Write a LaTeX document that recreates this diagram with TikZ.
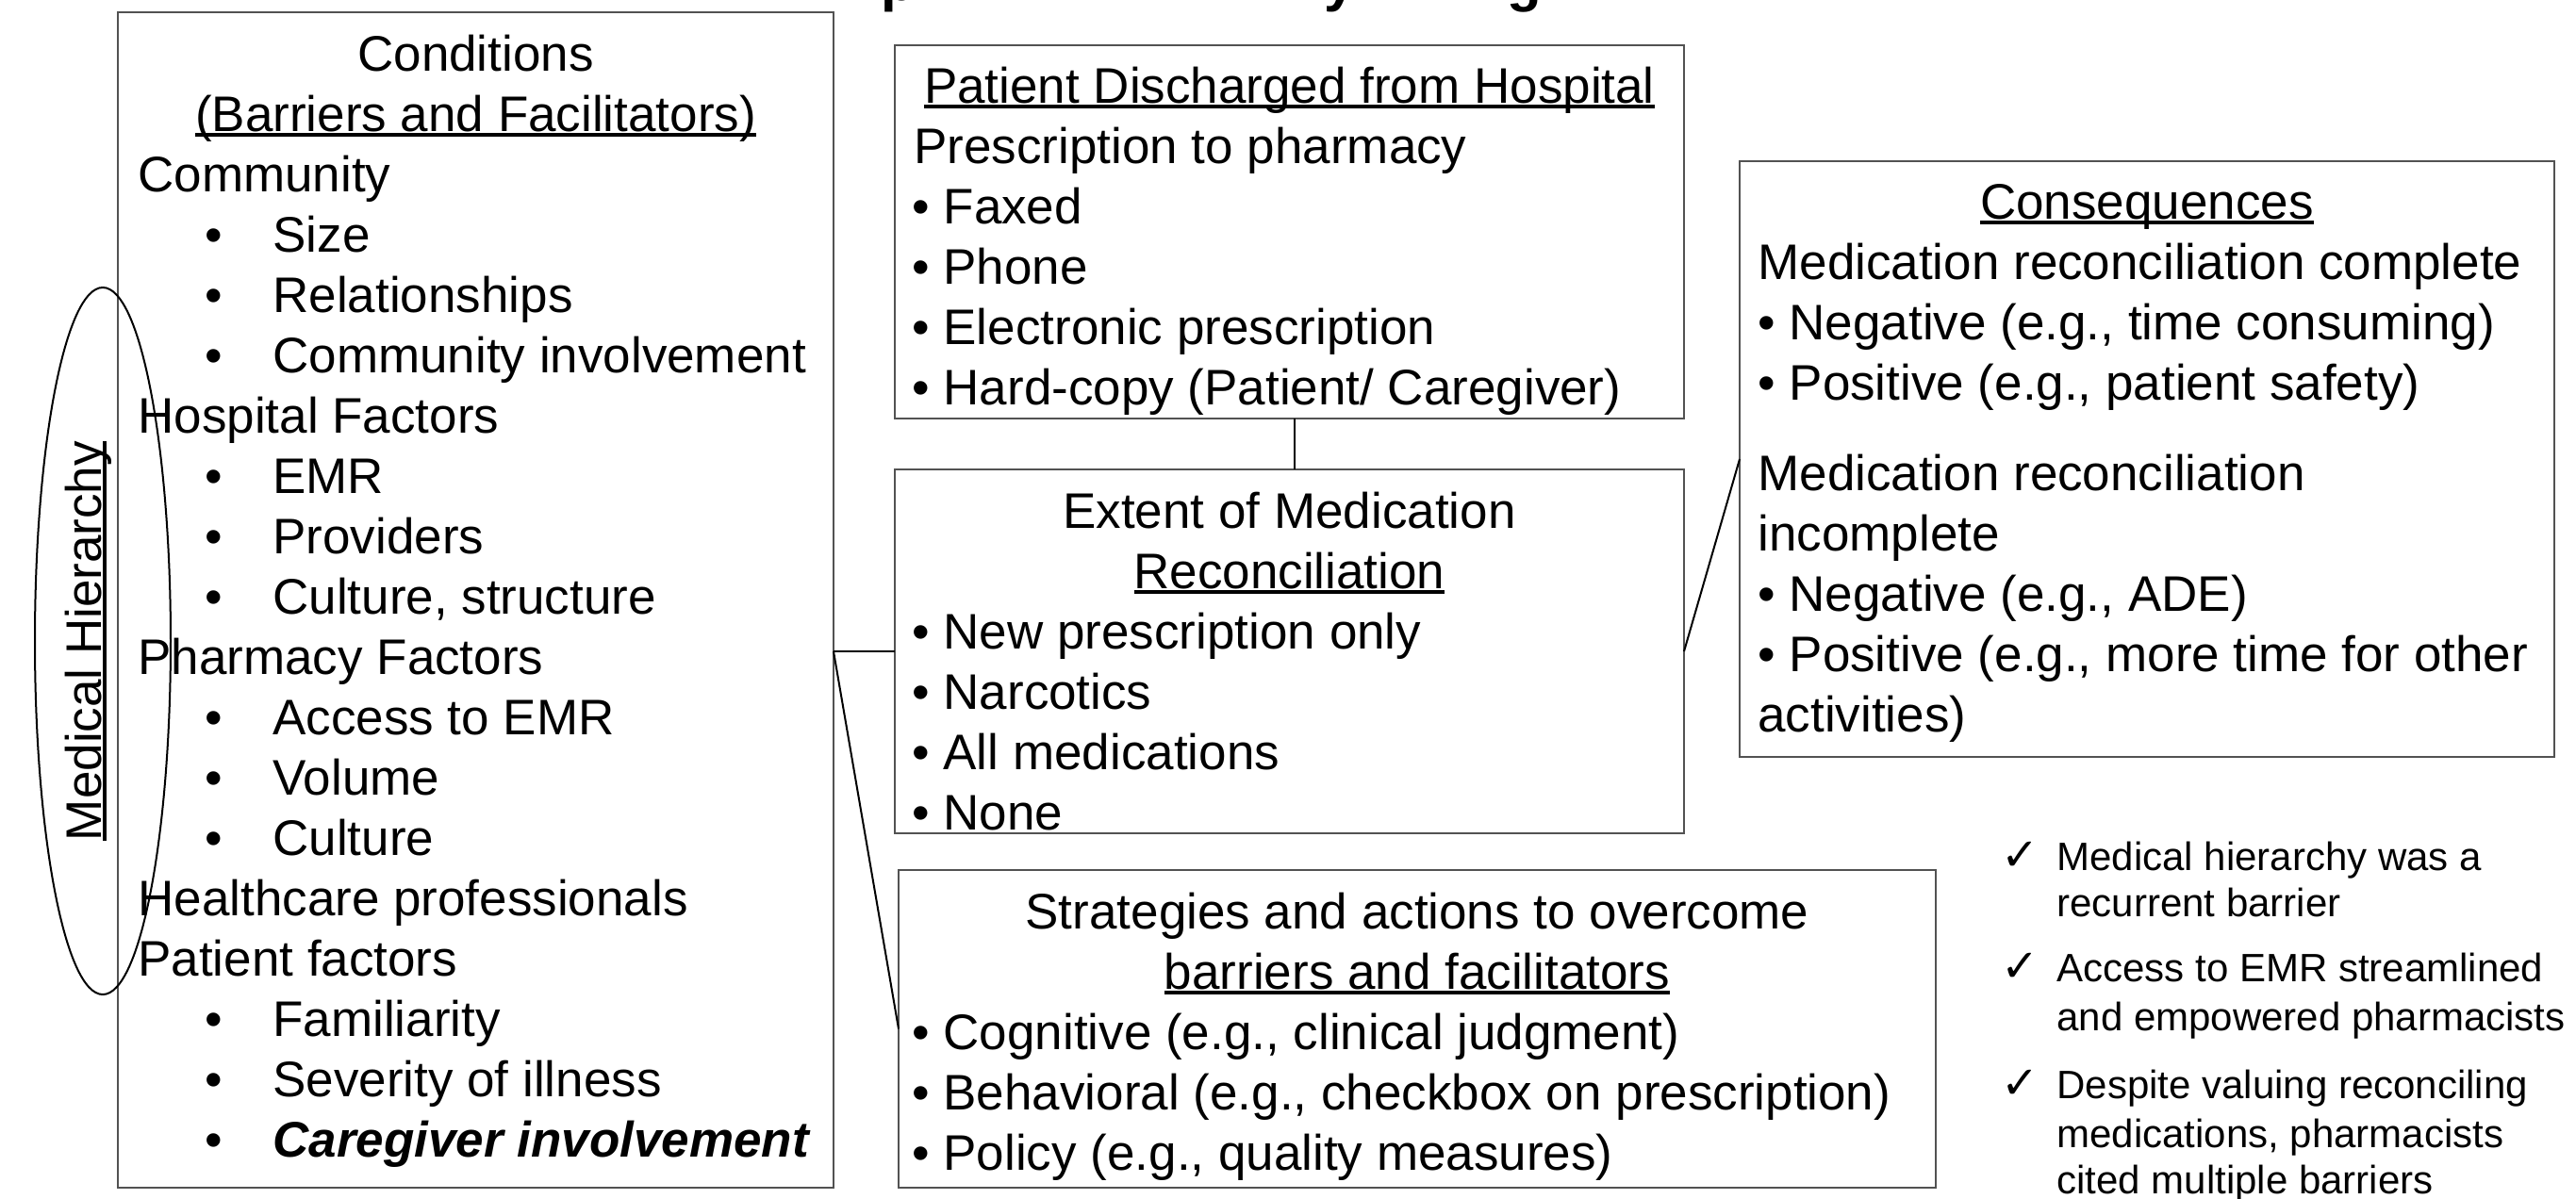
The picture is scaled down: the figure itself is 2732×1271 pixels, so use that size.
\documentclass[tikz,border=0pt]{standalone}
\usepackage{fontspec}
\setmainfont{Liberation Sans}
\newfontfamily\symfont{DejaVu Sans}
\newcommand{\ulx}[1]{\setbox0\hbox{#1}\rlap{\rule[-0.105em]{\wd0}{0.07em}}\box0}
\newcommand{\mainsz}{\fontsize{26.5}{32}\selectfont}
\newcommand{\chksz}{\fontsize{21}{25}\selectfont}
\definecolor{boxgray}{gray}{0.32}
\tikzset{
  boxnode/.style={draw=boxgray, line width=1pt, inner sep=0, outer sep=0, anchor=north west},
  tl/.style={font=\mainsz, inner sep=0, anchor=base west},
  tcen/.style={font=\mainsz, inner sep=0, anchor=base},
  chk/.style={font=\chksz, inner sep=0, anchor=base west},
  chkmark/.style={font=\fontsize{24}{28}\selectfont\symfont, inner sep=0, anchor=base west},
  titlefrag/.style={font=\fontsize{30}{36}\selectfont\bfseries, inner sep=0, anchor=base west},
  conn/.style={draw=black, line width=1pt},
}
\begin{document}
\begin{tikzpicture}[x=0.5pt, y=-0.5pt]
\useasboundingbox (0,0) rectangle (2732,1271);
\fill[white] (0,0) rectangle (2732,1271);

% title fragments (cut off at top edge)
\node[titlefrag] (tp) at (934,0) {p};
\node[titlefrag] (ty) at (1404,0) {y};
\node[titlefrag] (tg) at (1598,0) {g};

% boxes
\node[boxnode, minimum width=379.5pt, minimum height=623.5pt] (cond) at (125,13) {};
\node[boxnode, minimum width=418.5pt, minimum height=198pt] (disch) at (949,48) {};
\node[boxnode, minimum width=418.5pt, minimum height=193pt] (extent) at (949,498) {};
\node[boxnode, minimum width=550pt, minimum height=168.5pt] (strat) at (953,923) {};
\node[boxnode, minimum width=432pt, minimum height=316pt] (cons) at (1845,171) {};

% connectors
\draw[conn] ([xshift=2.75pt]disch.south) -- ([xshift=2.75pt]extent.north);
\coordinate (junc) at (extent.west -| cond.east);
\draw[conn] (junc) -- (extent.west);
\draw[conn] (junc) -- (strat.west);
\draw[conn] (extent.east) -- (cons.west);

% Conditions box
\node[tcen] (c0) at (504.5,75) {Conditions};
\node[tcen] (c1) at (504.5,139) {\ulx{(Barriers and Facilitators)}};
\node[tl] (c2) at (146,203) {Community};
\node[tcen] (b3) at (227,267) {•}; \node[tl] (c3) at (289,267) {Size};
\node[tcen] (b4) at (227,331) {•}; \node[tl] (c4) at (289,331) {Relationships};
\node[tcen] (b5) at (227,395) {•}; \node[tl] (c5) at (289,395) {Community involvement};
\node[tl] (c6) at (146,459) {Hospital Factors};
\node[tcen] (b7) at (227,523) {•}; \node[tl] (c7) at (289,523) {EMR};
\node[tcen] (b8) at (227,587) {•}; \node[tl] (c8) at (289,587) {Providers};
\node[tcen] (b9) at (227,651) {•}; \node[tl] (c9) at (289,651) {Culture, structure};
\node[tl] (c10) at (146,715) {Pharmacy Factors};
\node[tcen] (b11) at (227,779) {•}; \node[tl] (c11) at (289,779) {Access to EMR};
\node[tcen] (b12) at (227,843) {•}; \node[tl] (c12) at (289,843) {Volume};
\node[tcen] (b13) at (227,907) {•}; \node[tl] (c13) at (289,907) {Culture};
\node[tl] (c14) at (146,971) {Healthcare professionals};
\node[tl] (c15) at (146,1035) {Patient factors};
\node[tcen] (b16) at (227,1099) {•}; \node[tl] (c16) at (289,1099) {Familiarity};
\node[tcen] (b17) at (227,1163) {•}; \node[tl] (c17) at (289,1163) {Severity of illness};
\node[tcen] (b18) at (227,1227) {•}; \node[tl] (c18) at (289,1227) {\bfseries\itshape Caregiver involvement};

% Medical hierarchy ellipse
\draw[line width=1pt] (109,680) ellipse [x radius=72, y radius=375];
\node[tcen, rotate=90] (mh) at (107,680) {\ulx{Medical Hierarchy}};

% Discharge box
\node[tcen] (d0) at (1367.5,109) {\ulx{Patient Discharged from Hospital}};
\node[tl] (d1) at (969,173) {Prescription to pharmacy};
\node[tl] (d2) at (967,237) {• Faxed};
\node[tl] (d3) at (967,301) {• Phone};
\node[tl] (d4) at (967,365) {• Electronic prescription};
\node[tl] (d5) at (967,429) {• Hard-copy (Patient/ Caregiver)};

% Extent box
\node[tcen] (e0) at (1367.5,560) {Extent of Medication};
\node[tcen] (e1) at (1367.5,624) {\ulx{Reconciliation}};
\node[tl] (e2) at (967,688) {• New prescription only};
\node[tl] (e3) at (967,752) {• Narcotics};
\node[tl] (e4) at (967,816) {• All medications};
\node[tl] (e5) at (967,880) {• None};

% Strategies box
\node[tcen] (s0) at (1503,985) {Strategies and actions to overcome};
\node[tcen] (s1) at (1503,1049) {\ulx{barriers and facilitators}};
\node[tl] (s2) at (967,1113) {• Cognitive (e.g., clinical judgment)};
\node[tl] (s3) at (967,1177) {• Behavioral (e.g., checkbox on prescription)};
\node[tl] (s4) at (967,1241) {• Policy (e.g., quality measures)};

% Consequences box
\node[tcen] (q0) at (2277,232) {\ulx{Consequences}};
\node[tl] (q1) at (1864,296) {Medication reconciliation complete};
\node[tl] (q2) at (1864,360) {• Negative (e.g., time consuming)};
\node[tl] (q3) at (1864,424) {• Positive (e.g., patient safety)};
\node[tl] (q4) at (1864,520) {Medication reconciliation};
\node[tl] (q5) at (1864,584) {incomplete};
\node[tl] (q6) at (1864,648) {• Negative (e.g., ADE)};
\node[tl] (q7) at (1864,712) {• Positive (e.g., more time for other};
\node[tl] (q8) at (1864,776) {activities)};

% Check list
\node[chkmark] (k1m) at (2122,923) {✓};
\node[chk] (k1a) at (2181,923) {Medical hierarchy was a};
\node[chk] (k1b) at (2181,972) {recurrent barrier};
\node[chkmark] (k2m) at (2122,1041) {✓};
\node[chk] (k2a) at (2181,1041) {Access to EMR streamlined};
\node[chk] (k2b) at (2181,1093) {and empowered pharmacists};
\node[chkmark] (k3m) at (2122,1165) {✓};
\node[chk] (k3a) at (2181,1165) {Despite valuing reconciling};
\node[chk] (k3b) at (2181,1217) {medications, pharmacists};
\node[chk] (k3c) at (2181,1266) {cited multiple barriers};
\end{tikzpicture}
\end{document}
